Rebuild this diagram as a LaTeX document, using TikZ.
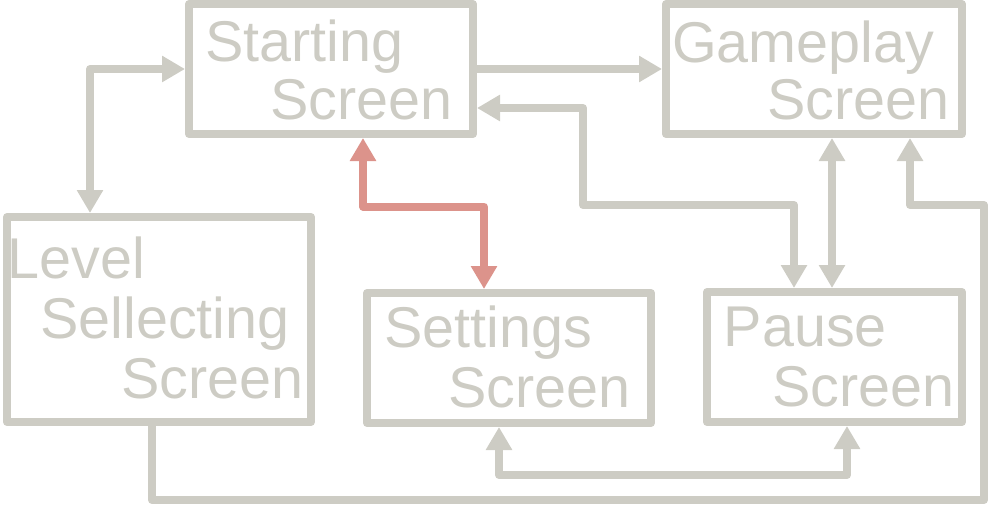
\documentclass[tikz,border=0pt]{standalone}
\usepackage{fontspec}
\setmainfont{Liberation Sans}
\usetikzlibrary{arrows.meta}
\definecolor{boxgray}{HTML}{CDCCC4}
\definecolor{linkred}{HTML}{DC938B}
\begin{document}
\begin{tikzpicture}[x=1pt,y=-1pt,
  screenbox/.style={draw=boxgray, line width=8pt, line join=round, rectangle, inner sep=0pt},
  label/.style={text=boxgray, inner sep=0pt, anchor=base west, font=\fontsize{57.5}{60}\selectfont},
  conn/.style={draw=boxgray, line width=8pt, line join=round,
    arrows={-}, >={Triangle[length=23pt,width=25pt]}},
  redconn/.style={conn, draw=linkred}]
\useasboundingbox (0,0) rectangle (1000,516);

% screens
\node[screenbox, minimum width=284pt, minimum height=130pt] (start) at (331,69) {};
\node[screenbox, minimum width=296pt, minimum height=130pt] (game)  at (814,69) {};
\node[screenbox, minimum width=304pt, minimum height=205pt] (level) at (159,319.5) {};
\node[screenbox, minimum width=284pt, minimum height=130pt] (sett)  at (509,358) {};
\node[screenbox, minimum width=255pt, minimum height=130pt] (pause) at (834.5,357) {};

% screen titles
\node[label] (startA) at (205,62) {Starting};
\node[label] (startB) at (270,120) {Screen};
\node[label] (gameA)  at (672,63) {Gameplay};
\node[label] (gameB)  at (767,120) {Screen};
\node[label] (levelA) at (7.6,278) {Level};
\node[label] (levelB) at (40,338) {Sellecting};
\node[label] (levelC) at (121,398) {Screen};
\node[label] (settA)  at (384,347) {Settings};
\node[label] (settB)  at (448,407) {Screen};
\node[label] (pauseA) at (723.6,346) {Pause};
\node[label] (pauseB) at (772,406) {Screen};

% transitions
\draw[conn, <->] (start.west) -| (level.north -| 90,0);
\draw[conn, ->] (start.east) -- (game.west);
\draw[conn, <->] (start.east |- 0,108) -| (583,205) -| (pause.north -| 794,0);
\draw[conn, <->] (game.south -| 832,0) -- (pause.north -| 832,0);
\draw[conn, ->] (level.south -| 152,0) |- (984,500) |- (910,205) -- (game.south -| 910,0);
\draw[conn, <->] (sett.south -| 499,0) |- (847,475) -- (pause.south -| 847,0);
\draw[redconn, <->] (start.south -| 363,0) |- (484,206.5) -- (sett.north -| 484,0);
\end{tikzpicture}
\end{document}
